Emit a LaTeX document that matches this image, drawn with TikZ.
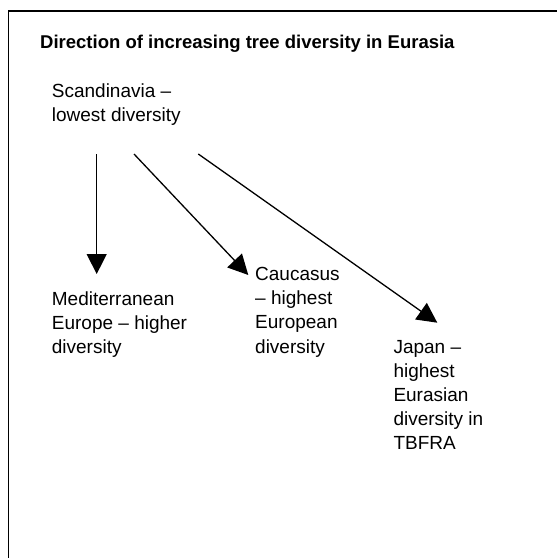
\documentclass[tikz,border=0pt]{standalone}
\usepackage{fontspec}
\setmainfont{Liberation Sans}
\usetikzlibrary{arrows.meta}
\tikzset{
  frameline/.style={line width=1.5pt, line cap=rect},
  label/.style={anchor=base west, inner sep=0pt, font=\fontsize{19}{24.2}\selectfont},
  titlestyle/.style={anchor=base west, inner sep=0pt, font=\fontsize{18.5}{22}\selectfont\bfseries},
  arrowline/.style={line width=1.3pt, -{Triangle[length=20pt,width=20pt]}}
}
\newcommand{\lines}[1]{\parbox[t]{200pt}{\raggedright #1}}
\begin{document}
\begin{tikzpicture}[x=1pt,y=1pt]
\useasboundingbox (0,0) rectangle (557,-558);
\fill[white] (0,0) rectangle (557,-558);
\draw[frameline] (8.5,-560) -- (8.5,-11) -- (560,-11);
\node[titlestyle] (title) at (40,-48.3) {Direction of increasing tree diversity in Eurasia};
\node[label] (scan) at (51.7,-97) {\lines{Scandinavia –\\lowest diversity}};
\node[label] (med) at (51.7,-305) {\lines{Mediterranean\\Europe – higher\\diversity}};
\node[label] (cau) at (255,-280.5) {\lines{Caucasus\\– highest\\European\\diversity}};
\node[label] (jap) at (393.3,-353) {\lines{Japan –\\highest\\Eurasian\\diversity in\\TBFRA}};
\coordinate (s1) at (96.7,-154);
\coordinate (s2) at (134,-154);
\coordinate (s3) at (198.3,-154);
\coordinate (t1) at (96.7,-274);
\coordinate (t2) at (248.3,-275);
\coordinate (t3) at (437.3,-322.7);
\draw[arrowline] (s1) -- (t1);
\draw[arrowline] (s2) -- (t2);
\draw[arrowline] (s3) -- (t3);
\end{tikzpicture}
\end{document}
